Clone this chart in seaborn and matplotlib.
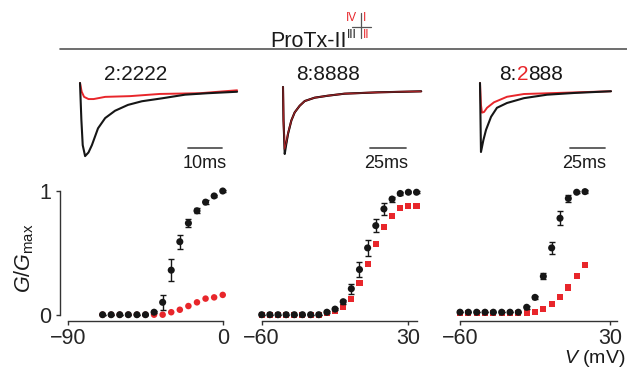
import matplotlib
matplotlib.use('Agg')
import matplotlib.pyplot as plt
import pandas as pd
import seaborn as sns
from matplotlib.lines import Line2D

# ---- G-V data (V in mV, G/Gmax), black = control, red = + ProTx-II ----
v_2222 = [-70, -65, -60, -55, -50, -45, -40, -35, -30, -25, -20, -15, -10, -5, 0]
g_2222_ctrl = [0, 0, 0, 0, 0, 0, 0.02, 0.10, 0.36, 0.59, 0.74, 0.84, 0.91, 0.96, 1.0]
e_2222_ctrl = [0, 0, 0, 0, 0, 0, 0.01, 0.06, 0.09, 0.055, 0.03, 0.02, 0.015, 0.01, 0.01]
g_2222_tox = [0, 0, 0, 0, 0, 0, 0, 0, 0.02, 0.04, 0.07, 0.10, 0.13, 0.14, 0.16]

v_8888 = [-60, -55, -50, -45, -40, -35, -30, -25, -20, -15, -10, -5, 0, 5, 10, 15, 20, 25, 30, 35]
g_8888_ctrl = [0, 0, 0, 0, 0, 0, 0, 0, 0.02, 0.045, 0.105, 0.21, 0.365, 0.54, 0.72, 0.855, 0.935, 0.98, 0.99, 0.99]
e_8888_ctrl = [0, 0, 0, 0, 0, 0, 0, 0, 0.01, 0.01, 0.015, 0.04, 0.06, 0.065, 0.055, 0.045, 0.02, 0.01, 0.01, 0.01]
g_8888_tox = [0, 0, 0, 0, 0, 0, 0, 0, 0.01, 0.027, 0.06, 0.126, 0.255, 0.41, 0.57, 0.71, 0.80, 0.86, 0.88, 0.88]

v_8288 = [-60, -55, -50, -45, -40, -35, -30, -25, -20, -15, -10, -5, 0, 5, 10, 15]
g_8288_ctrl = [0.02, 0.02, 0.02, 0.02, 0.02, 0.02, 0.02, 0.02, 0.06, 0.14, 0.31, 0.54, 0.78, 0.94, 0.99, 0.995]
e_8288_ctrl = [0, 0, 0, 0, 0, 0, 0, 0, 0.01, 0.01, 0.025, 0.047, 0.057, 0.025, 0.01, 0.01]
g_8288_tox = [0.01, 0.01, 0.01, 0.01, 0.01, 0.01, 0.01, 0.01, 0.01, 0.025, 0.045, 0.09, 0.145, 0.22, 0.31, 0.40]

# ---- current traces (t in ms, current normalised to control peak) ----
t_2222_ctrl = [0, 0.4, 0.8, 1.5, 2.5, 3.5, 5.3, 7.4, 10.3, 14.1, 18.2, 24.1, 30.9, 37.6, 46.2]
i_2222_ctrl = [0, -0.5, -0.85, -1.0, -0.95, -0.85, -0.62, -0.48, -0.38, -0.30, -0.25, -0.21, -0.16, -0.14, -0.12]
t_2222_tox = [0, 0.5, 1.2, 2.5, 4.0, 7.4, 14.7, 23.5, 35.3, 46.2]
i_2222_tox = [0, -0.12, -0.19, -0.22, -0.22, -0.19, -0.18, -0.15, -0.14, -0.10]

t_8888_ctrl = [0, 0.35, 1.2, 2.3, 3.5, 5.8, 8.1, 11.6, 15.1, 22, 31.3, 42.8, 66, 96]
i_8888_ctrl = [0, -0.5, -1.0, -0.85, -0.70, -0.50, -0.38, -0.28, -0.21, -0.16, -0.13, -0.10, -0.08, -0.065]
t_8888_tox = [0, 0.35, 1.2, 2.3, 3.5, 5.8, 8.1, 11.6, 15.1, 22, 31.3, 42.8, 66, 96]
i_8888_tox = [0, -0.5, -0.93, -0.83, -0.69, -0.50, -0.38, -0.28, -0.21, -0.16, -0.13, -0.10, -0.08, -0.065]

t_8288_ctrl = [0, 0.7, 2.4, 4.3, 7.9, 12.1, 19.3, 31.4, 47.9, 67.1, 93.6]
i_8288_ctrl = [0, -1.0, -0.83, -0.68, -0.49, -0.36, -0.29, -0.22, -0.17, -0.145, -0.12]
t_8288_tox = [0, 0.7, 1.4, 2.9, 5.0, 10.0, 19.3, 31.4, 55.0, 93.6]
i_8288_tox = [0, -0.32, -0.43, -0.42, -0.36, -0.28, -0.20, -0.16, -0.145, -0.12]

BLACK = '#161616'
RED = '#e8262b'
GREY = '#555555'

sns.set_style('white')
plt.rcParams['font.family'] = ['Liberation Sans', 'DejaVu Sans']
plt.rcParams['mathtext.fontset'] = 'custom'
plt.rcParams['mathtext.rm'] = 'Liberation Sans'
plt.rcParams['mathtext.it'] = 'Liberation Sans:italic'
plt.rcParams['text.color'] = '#1a1a1a'

W, H = 627, 369
fig = plt.figure(figsize=(W / 100, H / 100), dpi=100)


def px_axes(left, top, right, bottom):
    # axes placed by pixel box (origin top-left)
    return fig.add_axes([left / W, 1 - bottom / H, (right - left) / W, (bottom - top) / H])


def fx(x):
    return x / W


def fy(y):
    return 1 - y / H


# ---- header: ProTx-II with domain cross ----
fig.add_artist(Line2D([fx(60), fx(627)], [fy(48.5), fy(48.5)], color=GREY, lw=1.2))
fig.text(fx(309), fy(47), 'ProTx-II', ha='center', va='baseline', fontsize=15.5)
fig.add_artist(Line2D([fx(361), fx(361)], [fy(13), fy(38)], color=GREY, lw=0.9))
fig.add_artist(Line2D([fx(352), fx(371)], [fy(26.5), fy(26.5)], color=GREY, lw=0.9))
for s, x, y, c in [('IV', 351.7, 18.3, RED), ('I', 365, 18.3, RED),
                   ('III', 352, 34.5, BLACK), ('II', 366.5, 34.5, RED)]:
    fig.text(fx(x), fy(y), s, ha='center', va='center', fontsize=8.5, color=c)

# ---- trace panels ----
trace_panels = [
    dict(box=(75, 78, 240, 170), xlim=(-1.47, 47.06), ylim=(-1.19, 0.068),
         ctrl=(t_2222_ctrl, i_2222_ctrl), tox=(t_2222_tox, i_2222_tox),
         bar=(31.8, 41.8, -0.89), lab=('10ms', 36.8, -1.164)),
    dict(box=(275, 80, 430, 170), xlim=(-5.56, 102.1), ylim=(-1.239, 0.104),
         ctrl=(t_8888_ctrl, i_8888_ctrl), tox=(t_8888_tox, i_8888_tox),
         bar=(60.4, 85.4, -0.91), lab=('25ms', 71.5, -1.209)),
    dict(box=(472, 78, 625, 170), xlim=(-5.71, 103.6), ylim=(-1.261, 0.072),
         ctrl=(t_8288_ctrl, i_8288_ctrl), tox=(t_8288_tox, i_8288_tox),
         bar=(64.3, 89.3, -0.942), lab=('25ms', 74.3, -1.232)),
]
for p in trace_panels:
    ax = px_axes(*p['box'])
    sns.lineplot(x=p['tox'][0], y=p['tox'][1], ax=ax, color=RED, lw=1.4, sort=False, estimator=None)
    sns.lineplot(x=p['ctrl'][0], y=p['ctrl'][1], ax=ax, color=BLACK, lw=1.5, sort=False, estimator=None)
    if p is trace_panels[1]:
        # red trace peeks out under the black one
        sns.lineplot(x=p['tox'][0], y=p['tox'][1], ax=ax, color=RED, lw=0.6, sort=False,
                     estimator=None, alpha=0.8)
    b0, b1, by = p['bar']
    ax.plot([b0, b1], [by, by], color=GREY, lw=1.3)
    ax.text(p['lab'][1], p['lab'][2], p['lab'][0], ha='center', va='baseline', fontsize=13)
    ax.set_xlim(*p['xlim'])
    ax.set_ylim(*p['ylim'])
    ax.set_axis_off()

# titles
fig.text(fx(135.5), fy(80), '2:2222', ha='center', va='baseline', fontsize=15)
fig.text(fx(328.5), fy(80), '8:8888', ha='center', va='baseline', fontsize=15)
renderer = fig.canvas.get_renderer()
tmp = fig.text(0, 0, '8:2888', fontsize=15)
wtot = tmp.get_window_extent(renderer).width
tmp.remove()
x0 = 531 - wtot / 2
for s, c in [('8:', BLACK), ('2', RED), ('888', BLACK)]:
    t = fig.text(fx(x0), fy(80), s, ha='left', va='baseline', fontsize=15, color=c)
    x0 += t.get_window_extent(renderer).width

# ---- G-V panels ----
gv_panels = [
    dict(box=(60, 180, 232, 321), xlim=(-94.8, 5.4), ticks=[-90, 0], bounds=(-90, 0),
         v=v_2222, ctrl=g_2222_ctrl, err=e_2222_ctrl, tox=g_2222_tox, mk='o', ms=22),
    dict(box=(255, 180, 425, 321), xlim=(-64.1, 40.2), ticks=[-60, 30], bounds=(-60, 35),
         v=v_8888, ctrl=g_8888_ctrl, err=e_8888_ctrl, tox=g_8888_tox, mk='s', ms=19),
    dict(box=(453, 180, 622, 321), xlim=(-64.2, 37.2), ticks=[-60, 30], bounds=(-60, 34),
         v=v_8288, ctrl=g_8288_ctrl, err=e_8288_ctrl, tox=g_8288_tox, mk='s', ms=19),
]
for k, p in enumerate(gv_panels):
    ax = px_axes(*p['box'])
    df = pd.DataFrame({'V': p['v'], 'ctrl': p['ctrl'], 'err': p['err'], 'tox': p['tox']})
    sns.scatterplot(data=df, x='V', y='tox', ax=ax, color=RED, marker=p['mk'], s=p['ms'],
                    edgecolor='none', linewidth=0, zorder=2)
    ax.errorbar(df['V'], df['ctrl'], yerr=df['err'], fmt='none', ecolor=BLACK,
                elinewidth=1.0, capsize=2.5, capthick=1.0, zorder=3)
    sns.scatterplot(data=df, x='V', y='ctrl', ax=ax, color=BLACK, marker='o', s=26,
                    edgecolor='none', linewidth=0, zorder=4)
    ax.set_xlim(*p['xlim'])
    ax.set_ylim(-0.051, 1.089)
    ax.set_xticks(p['ticks'])
    ax.set_xticklabels(['\u2212' + str(-t) if t < 0 else str(t) for t in p['ticks']])
    ax.set_xlabel('')
    ax.set_ylabel('')
    for side in ['top', 'right']:
        ax.spines[side].set_visible(False)
    ax.spines['bottom'].set_bounds(*p['bounds'])
    ax.spines['bottom'].set_color('#333333')
    ax.spines['bottom'].set_linewidth(1.0)
    ax.tick_params(axis='x', length=3, width=1, color='#333333', labelsize=15.5, pad=2,
                   direction='out', bottom=True)
    if k == 0:
        ax.spines['left'].set_bounds(0, 1)
        ax.spines['left'].set_color('#333333')
        ax.spines['left'].set_linewidth(1.0)
        ax.set_yticks([0, 1])
        ax.set_yticklabels(['0', '1'])
        ax.tick_params(axis='y', length=3, width=1, color='#333333', labelsize=15.5, pad=3,
                       direction='out', left=True)
    else:
        ax.spines['left'].set_visible(False)
        ax.set_yticks([])

fig.text(fx(24), fy(258), r'$G/G_{\rm max}$', rotation=90, ha='center', va='center', fontsize=15.5)
fig.text(fx(625), fy(369), r'$V$ (mV)', ha='right', va='bottom', fontsize=14)

fig.savefig('out.png', dpi=100)
